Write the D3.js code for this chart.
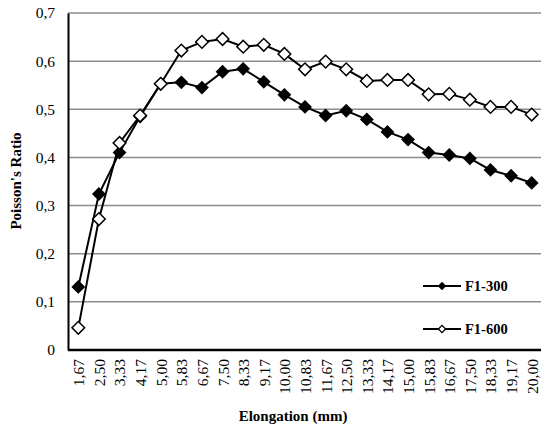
<!DOCTYPE html>
<html><head><meta charset="utf-8">
<script src="https://cdn.jsdelivr.net/npm/d3@7"></script>
<style>body{margin:0;background:#fff}</style>
</head><body>
<svg id="c" width="541" height="430" style="font-family:'Liberation Serif',serif"></svg>
<script>
const categories = ["1,67","2,50","3,33","4,17","5,00","5,83","6,67","7,50","8,33","9,17","10,00","10,83","11,67","12,50","13,33","14,17","15,00","15,83","16,67","17,50","18,33","19,17","20,00"];
const f1_300 = [0.131,0.324,0.410,0.485,0.553,0.556,0.545,0.578,0.584,0.557,0.530,0.505,0.487,0.497,0.479,0.453,0.437,0.410,0.405,0.398,0.374,0.362,0.347];
const f1_600 = [0.046,0.272,0.430,0.487,0.553,0.622,0.640,0.646,0.630,0.634,0.615,0.583,0.599,0.583,0.559,0.561,0.561,0.531,0.532,0.520,0.505,0.505,0.489];
const yTicks = [0,0.1,0.2,0.3,0.4,0.5,0.6,0.7];
const seriesNames = ["F1-300","F1-600"];

const svg = d3.select("#c");
const FF = "'Liberation Serif', serif";
const L = 68, R = 542, T = 13, B = 350;
const x = d3.scalePoint().domain(categories).range([L, R]).padding(0.5);
const y = d3.scaleLinear().domain([0, 0.7]).range([B, T]);
const fmt = v => v === 0 ? "0" : d3.format(".1f")(v).replace(".", ",");

// gridlines
svg.append("g").selectAll("line").data(yTicks.filter(v => v > 0)).join("line")
  .attr("x1", L).attr("x2", 541).attr("y1", d => y(d)).attr("y2", d => y(d))
  .attr("stroke", "#8c8c8c").attr("stroke-width", 1.5);

// y axis
const ya = svg.append("g").attr("transform", `translate(${L},0)`)
  .call(d3.axisLeft(y).tickValues(yTicks).tickFormat(fmt).tickSize(0).tickPadding(13));
ya.attr("font-family", null).attr("font-size", null);
ya.select(".domain").attr("stroke", "#000").attr("stroke-width", 2);
ya.selectAll("text").style("font-size", "15.5px").style("font-family", FF).attr("fill", "#000");

// x axis
const xa = svg.append("g").attr("transform", `translate(0,${B})`)
  .call(d3.axisBottom(x).tickSize(0).tickPadding(0));
xa.attr("font-family", null).attr("font-size", null);
xa.select(".domain").attr("stroke", "#000").attr("stroke-width", 2.5).attr("d", `M${L},0H541`);
xa.selectAll("text").style("font-size", "15.5px").style("font-family", FF).attr("fill", "#000")
  .attr("text-anchor", "end").attr("dy", "0.35em")
  .attr("transform", "translate(0,9) rotate(-90)");

// lines
const line = d3.line().x((d, i) => x(categories[i])).y(d => y(d));
[f1_300, f1_600].forEach(s => {
  svg.append("path").datum(s).attr("d", line).attr("fill", "none").attr("stroke", "#000").attr("stroke-width", 2);
});
const dFilled = d3.symbol(d3.symbolSquare, 96)();
const dOpen = d3.symbol(d3.symbolSquare, 80)();
svg.append("g").selectAll("path").data(f1_300).join("path")
  .attr("d", dFilled).attr("fill", "#000")
  .attr("transform", (d, i) => `translate(${x(categories[i])},${y(d)}) rotate(45)`);
svg.append("g").selectAll("path").data(f1_600).join("path")
  .attr("d", dOpen).attr("fill", "#fff").attr("stroke", "#000").attr("stroke-width", 1.5)
  .attr("transform", (d, i) => `translate(${x(categories[i])},${y(d)}) rotate(45)`);

// legend
const leg = svg.append("g");
seriesNames.forEach((n, i) => {
  const ly = 286 + i * 43;
  leg.append("line").attr("x1", 423).attr("x2", 461).attr("y1", ly).attr("y2", ly).attr("stroke", "#000").attr("stroke-width", 2);
  leg.append("path").attr("d", d3.symbol(d3.symbolSquare, i === 0 ? 36 : 26)())
    .attr("transform", `translate(442,${ly}) rotate(45)`)
    .attr("fill", i === 0 ? "#000" : "#fff").attr("stroke", "#000").attr("stroke-width", i === 0 ? 0 : 1.3);
  leg.append("text").attr("x", 465).attr("y", ly).attr("dy", "0.35em").style("font-size", "14.5px").style("font-weight", "bold").style("font-family", FF).text(n);
});

// titles
svg.append("text").attr("x", 293).attr("y", 421).attr("text-anchor", "middle").style("font-size", "15px").style("font-weight", "bold").style("font-family", FF).text("Elongation (mm)");
svg.append("text").attr("transform", "translate(21,181) rotate(-90)").attr("text-anchor", "middle").style("font-size", "15px").style("font-weight", "bold").style("font-family", FF).text("Poisson's Ratio");
</script>
</body></html>
